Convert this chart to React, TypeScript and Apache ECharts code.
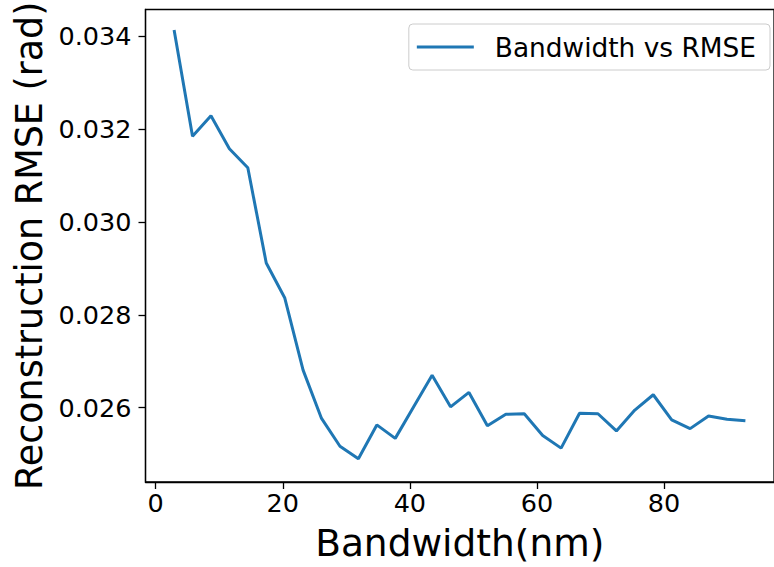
import React, { useEffect, useRef } from "react";
import * as echarts from "echarts";

const bandwidth = [
  2.9, 5.8, 8.7, 11.6, 14.5, 17.4, 20.3, 23.2, 26.1, 29.0, 31.9, 34.8, 37.7, 40.6, 43.5, 46.4,
  49.3, 52.2, 55.1, 58.0, 60.9, 63.8, 66.7, 69.6, 72.5, 75.4, 78.3, 81.2, 84.1, 87.0, 89.9, 92.8,
];
const rmse = [
  0.03414, 0.03185, 0.03229, 0.03158, 0.03117, 0.02912, 0.02837, 0.02681, 0.02577, 0.02517,
  0.0249, 0.02563, 0.02534, 0.02602, 0.0267, 0.02602, 0.02633, 0.02561, 0.02586, 0.02587,
  0.0254, 0.02513, 0.02588, 0.02587, 0.0255, 0.02595, 0.02628, 0.02574, 0.02555, 0.02582,
  0.02575, 0.02572,
];
const xTicks = [0, 20, 40, 60, 80];
const yTicks = [0.026, 0.028, 0.03, 0.032, 0.034];
const seriesName = "Bandwidth vs RMSE";
const xTitle = "Bandwidth(nm)";
const yTitle = "Reconstruction RMSE (rad)";

const FONT = "DejaVu Sans";

export default function App() {
  const ref = useRef<HTMLDivElement>(null);
  useEffect(() => {
    if (!ref.current) return;
    const chart = echarts.init(ref.current, null, { renderer: "svg" });
    const data = bandwidth.map((x, i) => [x, rmse[i]]);
    chart.setOption({
      animation: false,
      backgroundColor: "#fff",
      grid: {
        left: 145.5,
        top: 9.5,
        right: -10,
        bottom: 81,
        show: true,
        borderColor: "#000",
        borderWidth: 1.3,
        containLabel: false,
      },
      legend: {
        right: 4,
        top: 24,
        orient: "horizontal",
        padding: [10, 14, 10, 8],
        borderColor: "#cccccc",
        borderWidth: 1,
        borderRadius: 4,
        backgroundColor: "#fff",
        itemWidth: 57,
        itemHeight: 3,
        data: [{ name: seriesName, icon: "rect" }],
        textStyle: {
          fontFamily: FONT,
          fontSize: 26.4,
          color: "#000",
          padding: [0, 0, 0, 16],
        },
      },
      xAxis: {
        type: "value",
        min: -1.6,
        max: 97.3,
        name: xTitle,
        nameLocation: "middle",
        nameGap: 42,
        nameTextStyle: { fontFamily: FONT, fontSize: 37.5, color: "#000" },
        axisLine: { show: true, onZero: false, lineStyle: { color: "#000", width: 1.3 } },
        axisTick: { show: true, length: 7, customValues: xTicks, lineStyle: { color: "#000", width: 1.3 } },
        axisLabel: {
          customValues: xTicks,
          fontFamily: FONT,
          fontSize: 25.5,
          color: "#000",
          margin: 8,
        },
        splitLine: { show: false },
      },
      yAxis: {
        type: "value",
        min: 0.0244,
        max: 0.03458,
        name: yTitle,
        nameLocation: "middle",
        nameGap: 96,
        nameRotate: 90,
        nameTextStyle: { fontFamily: FONT, fontSize: 36.5, color: "#000" },
        axisLine: { show: true, onZero: false, lineStyle: { color: "#000", width: 1.3 } },
        axisTick: { show: true, length: 7, customValues: yTicks, lineStyle: { color: "#000", width: 1.3 } },
        axisLabel: {
          customValues: yTicks,
          fontFamily: FONT,
          fontSize: 25.5,
          color: "#000",
          margin: 14,
          formatter: (v: number) => v.toFixed(3),
        },
        splitLine: { show: false },
      },
      series: [
        {
          name: seriesName,
          type: "line",
          data,
          symbol: "none",
          lineStyle: { color: "#1f77b4", width: 3 },
          itemStyle: { color: "#1f77b4" },
        },
      ],
    });
    return () => chart.dispose();
  }, []);
  return (
    <div
      ref={ref}
      style={{ position: "fixed", left: 0, top: 0, width: 774, height: 567, background: "#fff" }}
    />
  );
}
